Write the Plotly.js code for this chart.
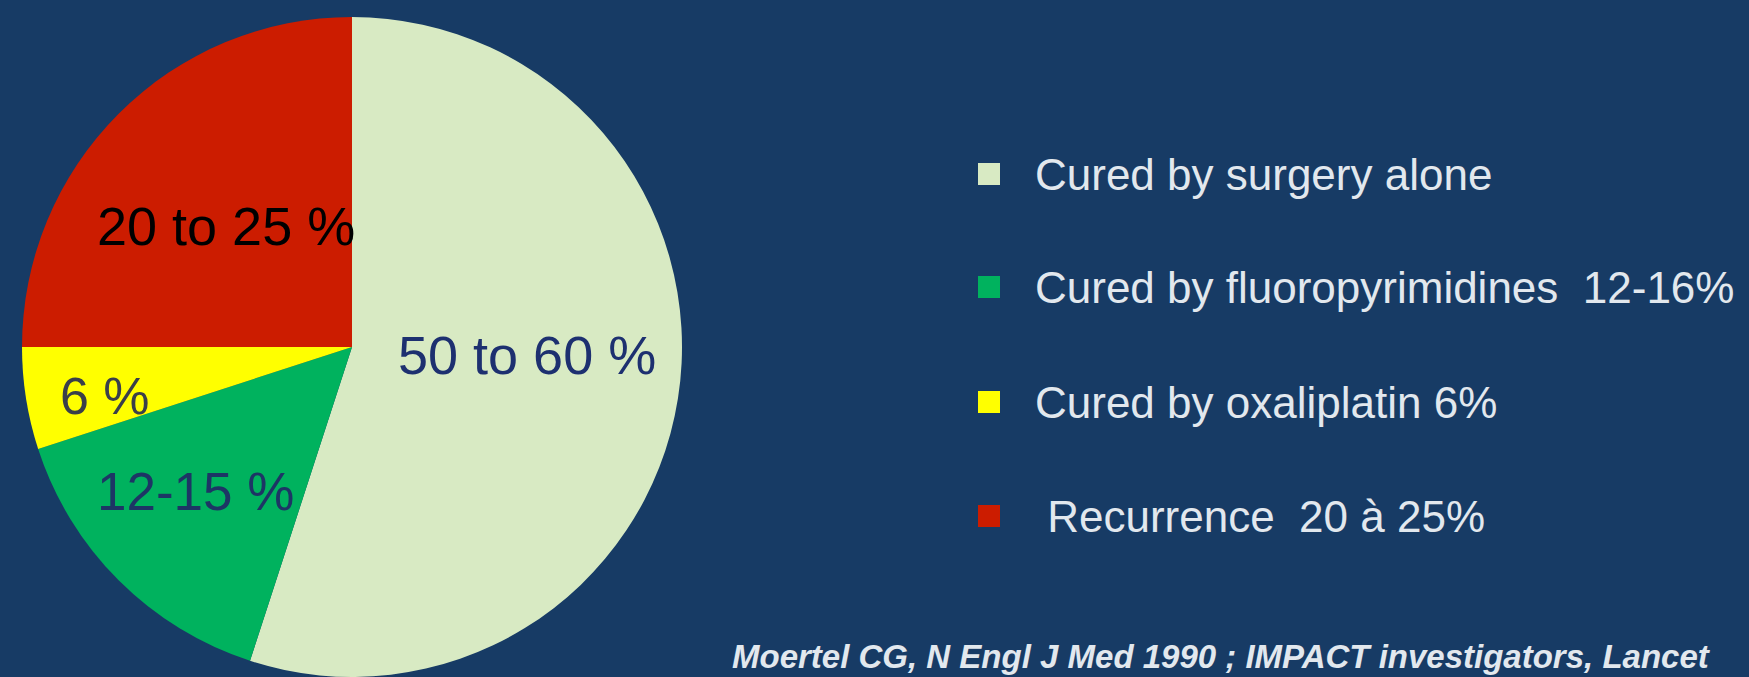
<!DOCTYPE html>
<html>
<head>
<meta charset="utf-8">
<script src="https://cdn.plot.ly/plotly-3.0.1.min.js"></script>
<style>
html,body{margin:0;padding:0;background:#173b65;}
#chart{width:1749px;height:677px;}
</style>
</head>
<body>
<div id="chart"></div>
<script>
// Data
const categories = ["Cured by surgery alone", "Cured by fluoropyrimidines  12-16%", "Cured by oxaliplatin 6%", " Recurrence  20 à 25%"];
const values = [55, 15, 5, 25];
const sliceLabels = ["50 to 60 %", "12-15 %", "6 %", "20 to 25 %"];
const citation = "Moertel CG, N Engl J Med 1990 ; IMPACT investigators, Lancet";

const colors = ["#d8eac3", "#00b25e", "#ffff00", "#cc1c00"];
const labelColors = ["#1d3070", "#1d3565", "#3a3f4a", "#000000"];
const labelSizes = [54, 53, 52, 54];
const W = 1749, H = 677;
// label positions (pixels)
const labelPos = [[527, 355], [195, 491], [105, 396], [226, 226]];
const legendY = [174, 287, 402, 516];

const trace = {
  type: "pie",
  labels: categories,
  values: values,
  sort: false,
  direction: "clockwise",
  rotation: 0,
  marker: {colors: colors, line: {width: 0}},
  textinfo: "none",
  hoverinfo: "label+percent",
  showlegend: false,
  domain: {x: [22 / W, 682 / W], y: [0, 660 / H]}
};

const annotations = [];
const shapes = [];
sliceLabels.forEach((t, i) => {
  annotations.push({
    text: t, xref: "paper", yref: "paper",
    x: labelPos[i][0] / W, y: 1 - labelPos[i][1] / H,
    xanchor: "center", yanchor: "middle", showarrow: false,
    font: {family: "Liberation Sans, Arial, sans-serif", size: labelSizes[i], color: labelColors[i]}
  });
});
categories.forEach((c, i) => {
  const cy = legendY[i];
  shapes.push({
    type: "rect", xref: "paper", yref: "paper",
    x0: 978 / W, x1: 1000 / W, y0: 1 - (cy + 11) / H, y1: 1 - (cy - 11) / H,
    fillcolor: colors[i], line: {width: 0}
  });
  annotations.push({
    text: c, xref: "paper", yref: "paper",
    x: 1033 / W, y: 1 - cy / H, xanchor: "left", yanchor: "middle", showarrow: false,
    font: {family: "Liberation Sans, Arial, sans-serif", size: 44, color: "#e2e8ee"}
  });
});
annotations.push({
  text: "<b><i>" + citation + "</i></b>", xref: "paper", yref: "paper",
  x: 730 / W, y: 1 - 656 / H, xanchor: "left", yanchor: "middle", showarrow: false,
  font: {family: "Liberation Sans, Arial, sans-serif", size: 33, color: "#e2e8ee"}
});

const layout = {
  width: W, height: H,
  margin: {l: 0, r: 0, t: 0, b: 0},
  paper_bgcolor: "#173b65",
  plot_bgcolor: "#173b65",
  showlegend: false,
  annotations: annotations,
  shapes: shapes
};

Plotly.newPlot("chart", [trace], layout, {displayModeBar: false, staticPlot: true});
</script>
</body>
</html>
